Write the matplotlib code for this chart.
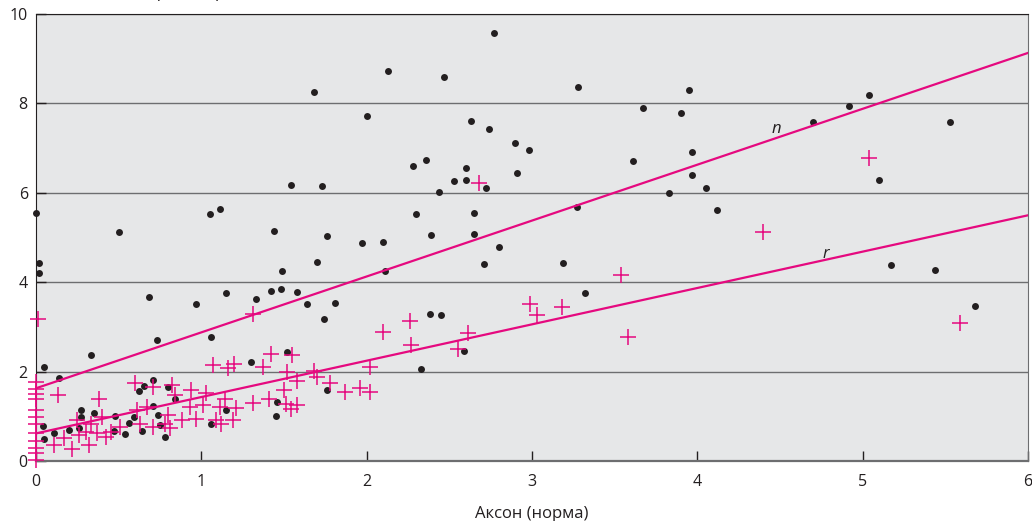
import matplotlib

matplotlib.use("Agg")
import matplotlib.pyplot as plt  # noqa: E402
import numpy as np  # noqa: E402

plt.rcParams["font.family"] = ["Open Sans", "DejaVu Sans"]

MAGENTA = "#E5097F"
DARK = "#231F20"
GRID = "#6D6E70"

# black dots (x, y)
dots_x = [
    0.00, 0.02, 0.02, 0.50, 1.05, 1.11, 1.44, 1.49, 1.54, 1.68, 1.70, 1.73,
    1.76, 1.97, 2.00, 2.10, 2.11, 2.13, 2.28, 2.30, 2.36, 2.39, 2.44, 2.47,
    2.53, 2.60, 2.60, 2.63, 2.65, 2.65, 2.71, 2.72, 2.74, 2.77, 2.80, 2.90,
    2.98, 2.91, 3.28, 3.27, 3.67, 3.90, 3.61, 3.95, 3.97, 3.97, 4.05, 3.83,
    4.12, 4.70, 4.92, 5.04, 5.10, 5.53, 5.17, 5.44, 5.68, 3.19, 3.32,
    0.05, 0.14, 0.33, 0.68, 0.73, 0.97, 1.15, 1.06, 1.30, 1.33, 1.42, 1.48,
    1.58, 1.64, 1.81, 1.74, 2.38, 2.45, 2.59, 2.33, 1.52, 1.76, 1.46, 1.45,
    1.15, 1.06,
    0.71, 0.65, 0.62, 0.80, 0.84, 0.71, 0.74, 0.75, 0.78, 0.59, 0.56, 0.48,
    0.47, 0.54, 0.64, 0.27, 0.27, 0.35, 0.26, 0.20, 0.11, 0.04, 0.05,
]
dots_y = [
    5.55, 4.43, 4.21, 5.12, 5.53, 5.64, 5.14, 4.25, 6.18, 8.26, 4.46, 6.15,
    5.04, 4.87, 7.73, 4.91, 4.25, 8.72, 6.61, 5.53, 6.73, 5.05, 6.02, 8.60,
    6.27, 6.55, 6.29, 7.61, 5.55, 5.09, 4.41, 6.12, 7.43, 9.57, 4.79, 7.12,
    6.95, 6.45, 8.37, 5.68, 7.89, 7.78, 6.72, 8.31, 6.92, 6.40, 6.12, 5.99,
    5.62, 7.58, 7.95, 8.18, 6.28, 7.58, 4.38, 4.28, 3.48, 4.43, 3.75,
    2.10, 1.86, 2.38, 3.68, 2.71, 3.52, 3.77, 2.77, 2.22, 3.62, 3.80, 3.84,
    3.78, 3.52, 3.53, 3.17, 3.28, 3.27, 2.46, 2.05, 2.43, 1.59, 1.32, 1.00,
    1.14, 0.82,
    1.81, 1.67, 1.56, 1.66, 1.39, 1.24, 1.04, 0.80, 0.54, 0.98, 0.86, 1.01,
    0.68, 0.60, 0.67, 1.15, 0.99, 1.07, 0.73, 0.70, 0.63, 0.79, 0.49,
]

# magenta crosses (x, y)
plus_x = [
    0.01, 0.00, 0.00, 0.00, 0.00, 0.00, 0.00, 0.00, 0.00, 0.00, 0.00, 0.00,
    0.00,
    0.13, 0.38, 0.11, 0.22, 0.32, 0.17, 0.26, 0.30, 0.37, 0.42, 0.45, 0.40,
    0.25, 0.33, 0.51, 0.61, 0.63, 0.67, 0.60, 0.71, 0.82, 0.84,
    0.94, 1.03, 1.14, 1.31, 1.41, 1.50, 0.93, 1.01, 0.97, 0.88, 0.80, 0.78,
    0.71, 0.81, 1.09, 1.12, 1.19, 1.21, 1.51, 1.54, 1.58, 1.11,
    1.07, 1.16, 1.20, 1.37, 1.42, 1.55, 1.52, 1.58, 1.68, 1.70, 1.78, 1.87,
    1.96, 2.02, 2.02, 1.31, 2.10, 2.26, 2.27, 2.55, 2.61, 2.68, 2.99, 3.03,
    3.18, 3.54, 3.58, 4.40, 5.04, 5.59,
]
plus_y = [
    3.18, 1.78, 1.62, 1.50, 1.38, 1.15, 0.98, 0.83, 0.63, 0.45, 0.30, 0.17,
    0.03,
    1.48, 1.40, 0.36, 0.27, 0.36, 0.51, 0.58, 0.66, 0.62, 0.54, 0.66, 0.99,
    0.92, 0.84, 0.77, 1.14, 0.84, 1.22, 1.75, 1.66, 1.70, 1.48,
    1.60, 1.52, 1.38, 1.30, 1.40, 1.59, 1.21, 1.25, 0.95, 0.92, 1.03, 0.84,
    0.77, 0.73, 0.93, 0.83, 0.92, 1.18, 1.27, 1.16, 1.25, 1.21,
    2.15, 2.08, 2.17, 2.10, 2.39, 2.38, 2.00, 1.80, 2.02, 1.89, 1.75, 1.55,
    1.63, 1.55, 2.11, 3.28, 2.89, 3.14, 2.60, 2.51, 2.87, 6.23, 3.51, 3.26,
    3.44, 4.16, 2.77, 5.12, 6.78, 3.10,
]

# regression lines: intercept, slope and where the letter sits
line_names = ["n", "r"]
line_intercepts = [1.63, 0.62]
line_slopes = [1.25, 0.813]
label_x = [4.48, 4.78]
label_y = [7.43, 4.63]

fig = plt.figure(figsize=(10.32, 5.21), dpi=100)
ax = fig.add_axes([0.035, 0.115, 0.961, 0.858])
ax.set_facecolor("#E6E7E8")

ax.plot(dots_x, dots_y, "o", color=DARK, markersize=5, markeredgewidth=0,
        zorder=3, clip_on=False)
ax.plot(plus_x, plus_y, "+", color=MAGENTA, markersize=11,
        markeredgewidth=1.1, zorder=4, clip_on=False)

xs = np.array([0, 6])
for name, b, k, lx, ly in zip(line_names, line_intercepts, line_slopes,
                              label_x, label_y):
    ax.plot(xs, b + k * xs, color=MAGENTA, linewidth=1.6, zorder=5)
    ax.text(lx, ly, name, style="italic", fontsize=12, color=DARK,
            ha="center", va="center")

ax.set_xlim(0, 6)
ax.set_ylim(0, 10)
ax.set_xticks(range(0, 7))
ax.set_yticks(range(0, 11, 2))
ax.yaxis.grid(True, color=GRID, linewidth=1)
ax.set_axisbelow(True)

ax.tick_params(axis="both", direction="in", length=7, width=1, color=DARK,
               labelsize=11.5, labelcolor=DARK)
ax.tick_params(axis="x", pad=9)
ax.tick_params(axis="y", pad=6)

ax.spines["left"].set_color(DARK)
ax.spines["top"].set_color(DARK)
ax.spines["right"].set_color(GRID)
ax.spines["bottom"].set_color(GRID)
ax.spines["bottom"].set_linewidth(1.6)

ax.set_xlabel("Аксон (норма)", fontsize=12, color=DARK, labelpad=12)
# y label sits above the frame; the page edge cuts it off as in the source
fig.text(0.112, 1.006, "Дендрит (норма)", fontsize=12, color=DARK,
         ha="left", va="baseline")

fig.savefig("out.png", dpi=100)
